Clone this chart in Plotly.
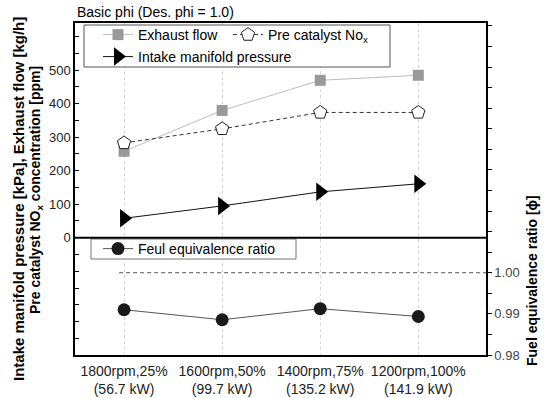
import plotly.graph_objects as go

categories = ["1800rpm,25%<br>(56.7 kW)", "1600rpm,50%<br>(99.7 kW)",
              "1400rpm,75%<br>(135.2 kW)", "1200rpm,100%<br>(141.9 kW)"]
exhaust_flow = [258, 380, 470, 485]
nox = [283, 325, 374, 374]
intake_pressure = [58, 95, 137, 161]
phi = [0.9910, 0.98857, 0.99126, 0.98936]
phi_design = 1.0

left_tickvals = list(range(-350, 651, 50))
left_ticktext = [str(v) if (0 <= v <= 500 and v % 100 == 0) else " " for v in left_tickvals]
right_tickvals = [round(0.98 + 0.005 * i, 3) for i in range(17)]
right_ticktext = [f"{v:.2f}" if v in (0.98, 0.99, 1.0) else " " for v in right_tickvals]

FONT = "Liberation Sans, Arial, sans-serif"
W, H = 544, 398
L, R, T, B = 75, 58, 23, 43
pw, ph = W - L - R, H - T - B

def px(x):
    return (x - L) / pw

def py(y):
    return (H - B - y) / ph

fig = go.Figure()
fig.add_trace(go.Scatter(x=categories, y=exhaust_flow, name="Exhaust flow", mode="lines+markers",
                         line=dict(color="#bdbdbd", width=1),
                         marker=dict(symbol="square", size=11, color="#999999"),
                         legend="legend"))
fig.add_trace(go.Scatter(x=categories, y=nox, name="Pre catalyst No<sub>x</sub>", mode="lines+markers",
                         line=dict(color="#333333", width=1, dash="4px,3px"),
                         marker=dict(symbol="pentagon", size=14, color="white",
                                     line=dict(color="#222222", width=1)),
                         legend="legend2"))
fig.add_trace(go.Scatter(x=categories, y=intake_pressure, name="Intake manifold pressure", mode="lines+markers",
                         line=dict(color="#111111", width=1),
                         marker=dict(symbol="triangle-right", size=16, color="black"),
                         legend="legend3"))
fig.add_trace(go.Scatter(x=categories, y=phi, name="Feul equivalence ratio", mode="lines+markers",
                         line=dict(color="#555555", width=1),
                         marker=dict(symbol="circle", size=13, color="#1a1a1a"),
                         yaxis="y2", legend="legend4"))

legend_common = dict(font=dict(family=FONT, size=14, color="black"), bgcolor="rgba(0,0,0,0)",
                     borderwidth=0, xanchor="left", yanchor="middle", itemsizing="trace")

fig.update_layout(
    width=W, height=H, margin=dict(l=L, r=R, t=T, b=B, autoexpand=False),
    paper_bgcolor="white", plot_bgcolor="white",
    font=dict(family=FONT, size=13, color="black"),
    showlegend=True,
    legend=dict(x=px(98), y=py(35), **legend_common),
    legend2=dict(x=px(228), y=py(35), **legend_common),
    legend3=dict(x=px(98), y=py(57), **legend_common),
    legend4=dict(x=px(98), y=py(249), **legend_common),
    xaxis=dict(type="category", range=[-0.5, 3.69], showline=True, linecolor="black", linewidth=1.5,
               mirror=True, ticks="", showgrid=True, gridcolor="#d5d5d5", griddash="dot", gridwidth=1,
               tickfont=dict(size=14, color="#222222"), ticklabelstandoff=2, zeroline=False,
               automargin=False),
    yaxis=dict(range=[-350, 641], tickmode="array", tickvals=left_tickvals, ticktext=left_ticktext,
               ticks="inside", ticklen=4, tickcolor="black", showline=True, linecolor="black", linewidth=1.5,
               showgrid=False, zeroline=False, tickfont=dict(size=13, color="#222222"), automargin=False),
    yaxis2=dict(range=[0.98, 1.0607], overlaying="y", side="right", tickmode="array",
                tickvals=right_tickvals, ticktext=right_ticktext, ticks="outside", ticklen=4,
                tickcolor="black", showline=True, linecolor="black", linewidth=1.5, showgrid=False,
                zeroline=False, tickfont=dict(size=13, color="#444444"), automargin=False),
)

shapes = [
    dict(type="rect", xref="paper", yref="paper", x0=px(84), x1=px(390), y0=py(67), y1=py(25),
         fillcolor="white", line=dict(color="#555555", width=1), layer="above"),
    dict(type="rect", xref="paper", yref="paper", x0=px(91), x1=px(296), y0=py(259), y1=py(239),
         fillcolor="white", line=dict(color="#777777", width=1), layer="above"),
    dict(type="line", xref="paper", yref="y", x0=0, x1=1, y0=0, y1=0,
         line=dict(color="black", width=2)),
    dict(type="line", xref="x", yref="y2", x0=-0.05, x1=3.69, y0=phi_design, y1=phi_design,
         line=dict(color="#555555", width=1, dash="4px,3px")),
]
fig.update_layout(shapes=shapes)

annotations = [
    dict(text="Basic phi (Des. phi = 1.0)", xref="paper", yref="paper", x=0, y=py(12),
         xanchor="left", yanchor="middle", showarrow=False, font=dict(size=14, family=FONT)),
    dict(text="<b>Intake manifold pressure [kPa], Exhaust flow [kg/h]</b>", xref="paper", yref="paper",
         x=px(19), y=py(199), xanchor="center", yanchor="middle", textangle=-90, showarrow=False,
         font=dict(size=15, family=FONT)),
    dict(text="<b>Pre catalyst NO<sub>x</sub> concentration [ppm]</b>", xref="paper", yref="paper",
         x=px(36), y=py(190), xanchor="center", yanchor="middle", textangle=-90, showarrow=False,
         font=dict(size=14, family=FONT)),
    dict(text="<b>Fuel equivalence ratio [ϕ]</b>", xref="paper", yref="paper",
         x=px(532), y=py(281), xanchor="center", yanchor="middle", textangle=-90, showarrow=False,
         font=dict(size=14, family=FONT)),
]
fig.update_layout(annotations=annotations)

fig.write_html("out.html")
